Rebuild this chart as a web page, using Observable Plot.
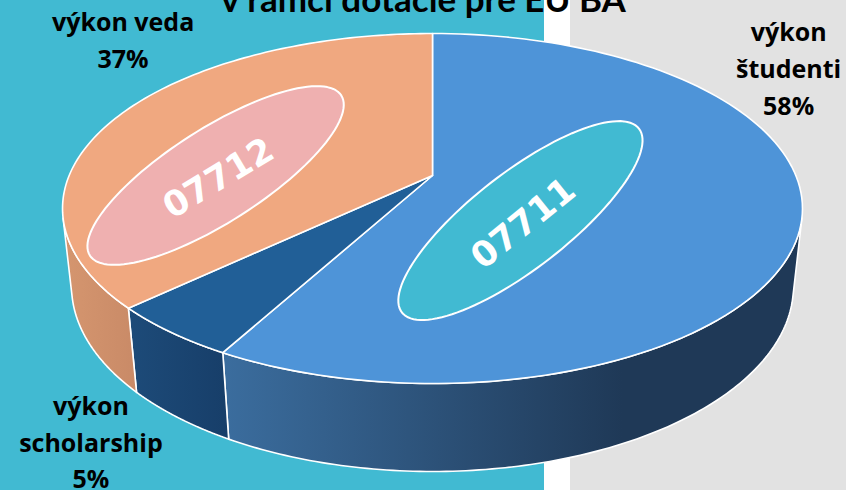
<!DOCTYPE html>
<html>
<head>
<meta charset="utf-8">
<script src="https://cdn.jsdelivr.net/npm/d3@7"></script>
<script src="https://cdn.jsdelivr.net/npm/@observablehq/plot@0.6"></script>
<style>
  html, body { margin: 0; padding: 0; }
  #chart {
    width: 846px; height: 490px; overflow: hidden;
    background: linear-gradient(to right, #41bad2 0px, #41bad2 544px, #ffffff 544px, #ffffff 570px, #e2e2e2 570px, #e2e2e2 846px);
  }
  #chart svg { display: block; background: transparent; }
</style>
</head>
<body>
<div id="chart"></div>
<script>
// ---- data ----
const titleText = "v rámci dotácie pre EU BA";
const sliceNames = ["výkon študenti", "výkon scholarship", "výkon veda"];
const shares = [58, 5, 37];
const labelTexts = ["výkon\nštudenti\n58%", "výkon\nscholarship\n5%", "výkon veda\n37%"];
const topColors = ["#4e94d8", "#215f97", "#f0a880"];
const sideFrom = ["#3b6d9e", "#1d4b79", "#d5966f"];
const sideTo = ["#1f3957", "#173e69", "#c98a67"];
// label anchor in pie-plane polar coords (angle deg clockwise from back, radius)
const labelAngle = [57.1, 210.8, 313.4];
const labelRadius = [1.326, 1.415, 1.382];
// program-code tags placed on slices
const tags = ["07711", "07712"];
const tagAngle = [137.8, 270];
const tagRadius = [0.343, 0.597];
const tagFill = ["#41bad2", "#efb0b0"];
const tagTilt = [37.8, 32.5];
const tagAxes = [[150, 48], [149, 47]];

// ---- geometry (perspective view of a cylinder) ----
const W = 846, H = 490;
const cx = 432, cy = 175, f = 1705.5, D = 4.694;
const sn = 0.4645, cs = Math.sqrt(1 - sn * sn), depthH = 0.244;
const rad = Math.PI / 180;
function proj(thetaDeg, r, Y) {
  const t = thetaDeg * rad;
  const u = r * Math.sin(t), v = -r * Math.cos(t);
  const dep = D - Y * sn - v * cs;
  return { x: cx + f * u / dep, y: cy - f * (Y * cs - v * sn) / dep };
}
const total = d3.sum(shares);
let acc = 0;
const slices = shares.map((s, i) => {
  const a0 = acc / total * 360; acc += s; const a1 = acc / total * 360;
  return { i, a0, a1 };
});
const visLo = Math.acos(-1 / (D * cs)) / rad, visHi = 360 - visLo;
function arc(a0, a1, Y, n = 120) {
  return d3.range(n + 1).map(k => proj(a0 + (a1 - a0) * k / n, 1, Y));
}
const marks = [];
// side faces
slices.forEach(s => {
  const lo = Math.max(s.a0, visLo), hi = Math.min(s.a1, visHi);
  if (hi <= lo) return;
  const pts = [...arc(lo, hi, 0), ...arc(hi, lo, -depthH)];
  pts.push(pts[0]);
  s.sideX0 = d3.min(pts, p => p.x); s.sideX1 = d3.max(pts, p => p.x);
  marks.push(Plot.line(pts, { x: "x", y: "y", fill: `url(#side${s.i})`, stroke: "white", strokeWidth: 1.6, curve: "linear" }));
});
// top faces
slices.forEach(s => {
  const c = proj(0, 0, 0);
  const pts = [c, ...arc(s.a0, s.a1, 0), c];
  marks.push(Plot.line(pts, { x: "x", y: "y", fill: topColors[s.i], stroke: "white", strokeWidth: 1.6, curve: "linear" }));
});
// tag ellipses
tags.forEach((t, j) => {
  const c = proj(tagAngle[j], tagRadius[j], 0);
  const al = tagTilt[j] * rad, [a, b] = tagAxes[j];
  const pts = d3.range(121).map(k => {
    const tt = k / 120 * 2 * Math.PI;
    return {
      x: c.x + a * Math.cos(tt) * Math.cos(al) + b * Math.sin(tt) * Math.sin(al),
      y: c.y - a * Math.cos(tt) * Math.sin(al) + b * Math.sin(tt) * Math.cos(al)
    };
  });
  marks.push(Plot.line(pts, { x: "x", y: "y", fill: tagFill[j], stroke: "white", strokeWidth: 2, curve: "linear" }));
  marks.push(Plot.text([t], { x: () => c.x + 3, y: () => c.y + 3, text: d => d, rotate: -tagTilt[j] + (j === 0 ? -1 : 1.5), fill: "white", fontSize: 35, fontWeight: "bold", fontFamily: "DejaVu Sans" }));
});
// slice labels
const labelData = slices.map(s => ({ ...proj(labelAngle[s.i], labelRadius[s.i], 0), text: labelTexts[s.i] }));
marks.push(Plot.text(labelData, { x: "x", y: "y", text: "text", fontSize: 25, fontWeight: "bold", fontFamily: "Open Sans", fill: "black", lineHeight: 1.48, dy: -2 }));
// title (partly clipped at the top, as in the reference)
marks.push(Plot.text([titleText], { frameAnchor: "top", lineAnchor: "top", dy: -13, text: d => d, fontSize: 35, fontWeight: "bold", fontFamily: "Lato", fill: "black" }));

const chart = Plot.plot({
  width: W, height: H,
  margin: 0,
  x: { domain: [0, W], range: [0, W], axis: null },
  y: { domain: [0, H], range: [0, H], axis: null },
  style: { background: "transparent", overflow: "hidden" },
  marks
});
// gradients for the cylinder sides
const ns = "http://www.w3.org/2000/svg";
const defs = document.createElementNS(ns, "defs");
slices.forEach(s => {
  const g = document.createElementNS(ns, "linearGradient");
  g.setAttribute("id", `side${s.i}`);
  g.setAttribute("gradientUnits", "userSpaceOnUse");
  const x0 = s.sideX0 ?? 0, x1 = s.i === 0 ? x0 + 400 : (s.sideX1 ?? 1);
  g.setAttribute("x1", x0); g.setAttribute("x2", x1);
  g.setAttribute("y1", 0); g.setAttribute("y2", 0);
  [[0, sideFrom[s.i]], [1, sideTo[s.i]]].forEach(([o, col]) => {
    const st = document.createElementNS(ns, "stop");
    st.setAttribute("offset", o); st.setAttribute("stop-color", col);
    g.appendChild(st);
  });
  defs.appendChild(g);
});
chart.insertBefore(defs, chart.firstChild);
document.getElementById("chart").appendChild(chart);
</script>
</body>
</html>
